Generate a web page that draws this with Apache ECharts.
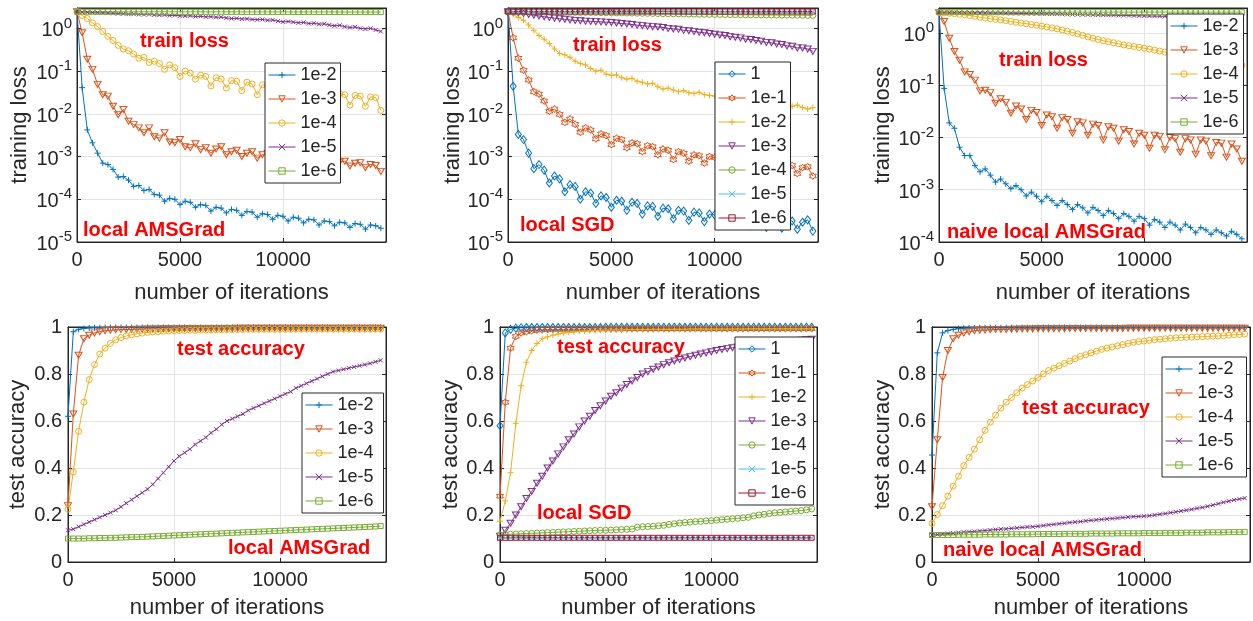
<!DOCTYPE html>
<html><head><meta charset="utf-8">
<script src="https://cdn.jsdelivr.net/npm/echarts@6/dist/echarts.min.js"></script>
<style>html,body{margin:0;padding:0;background:#fff}#c{width:1253px;height:621px}</style>
</head><body><div id="c"></div>
<script>
// ---------------- DATA ----------------
const xs = [0,250,500,750,1000,1250,1500,1750,2000,2250,
2500,2750,3000,3250,3500,3750,4000,4250,4500,4750,
5000,5250,5500,5750,6000,6250,6500,6750,7000,7250,
7500,7750,8000,8250,8500,8750,9000,9250,9500,9750,
10000,10250,10500,10750,11000,11250,11500,11750,12000,12250,
12500,12750,13000,13250,13500,13750,14000,14250,14500,14750];

const xTickLabels = ['0','5000','10000'];

// local AMSGrad - training loss
const tl_1e2 = [2.45,0.041,0.0042,0.0021,0.0012,0.0007,0.00065,0.0005,0.00033,0.00034,
0.00028,0.0002,0.00021,0.00016,0.00017,0.00013,0.000125,9e-5,1.05e-4,1e-4,
7.5e-5,9e-5,8.5e-5,6.5e-5,7.5e-5,7.2e-5,5.3e-5,6.5e-5,6.2e-5,4.8e-5,
5.8e-5,5.5e-5,4.2e-5,5.2e-5,5e-5,3.8e-5,4.6e-5,4.4e-5,3.4e-5,4.2e-5,
4e-5,3.1e-5,3.8e-5,3.6e-5,2.8e-5,3.4e-5,3.3e-5,2.5e-5,3.1e-5,3e-5,
2.4e-5,2.9e-5,2.8e-5,2.2e-5,2.7e-5,2.6e-5,2e-5,2.5e-5,2.4e-5,2.1e-5];
const tl_1e3 = [2.45,0.79,0.19,0.11,0.049,0.028,0.026,0.015,0.0095,0.0126,
0.0067,0.0056,0.0047,0.0036,0.0047,0.0029,0.0027,0.0036,0.0022,0.0021,
0.0025,0.0017,0.0016,0.002,0.00145,0.0016,0.0012,0.0015,0.0017,0.0011,
0.0013,0.0014,0.001,0.0012,0.0013,0.00092,0.0011,0.0012,0.00085,0.001,
0.0011,0.0008,0.00095,0.001,0.00075,0.0009,0.00092,0.0007,0.00082,0.00085,
0.00065,0.00075,0.00078,0.0006,0.0007,0.00072,0.00055,0.00065,0.00062,0.00045];
const tl_1e4 = [2.45,2.0,1.7,1.35,1.1,0.85,0.65,0.52,0.4,0.33,
0.3,0.25,0.2,0.21,0.16,0.17,0.15,0.11,0.14,0.12,
0.075,0.1,0.09,0.065,0.08,0.075,0.045,0.07,0.065,0.04,
0.06,0.058,0.035,0.055,0.05,0.028,0.048,0.045,0.03,0.042,
0.04,0.025,0.038,0.036,0.022,0.035,0.033,0.02,0.032,0.03,
0.018,0.03,0.028,0.016,0.027,0.026,0.015,0.025,0.024,0.012];
const tl_1e5 = [2.45,2.4,2.38,2.35,2.33,2.3,2.28,2.25,2.22,2.2,
2.15,2.17,2.12,2.1,2.12,2.06,2.05,2.07,2.0,2.02,
1.97,1.95,1.97,1.9,1.92,1.86,1.88,1.82,1.84,1.76,
1.7,1.72,1.66,1.68,1.62,1.6,1.62,1.55,1.57,1.48,
1.42,1.45,1.4,1.35,1.38,1.3,1.32,1.25,1.28,1.2,
1.15,1.18,1.1,1.05,1.08,1.0,0.97,1.0,0.92,0.85];
const tl_1e6 = [2.45,2.45,2.45,2.45,2.45,2.45,2.45,2.45,2.45,2.45,
2.45,2.45,2.45,2.45,2.45,2.45,2.45,2.45,2.45,2.45,
2.44,2.44,2.44,2.44,2.44,2.44,2.44,2.44,2.44,2.44,
2.44,2.44,2.43,2.43,2.43,2.43,2.43,2.43,2.43,2.43,
2.43,2.43,2.42,2.42,2.42,2.42,2.42,2.42,2.42,2.42,
2.42,2.42,2.41,2.41,2.41,2.41,2.41,2.41,2.41,2.41];

// local SGD - training loss
const tm_1 = [2.45,0.044,0.0033,0.0025,0.0012,0.00052,0.00065,0.00048,0.00024,0.00035,
0.0003,0.00015,0.00022,0.0002,0.0001,0.00015,0.00014,8e-5,0.00012,0.00011,
6.5e-5,9.5e-5,9e-5,5.5e-5,8.5e-5,8e-5,4.5e-5,7e-5,6.8e-5,4e-5,
6.2e-5,6e-5,3.5e-5,5.5e-5,5.3e-5,3.2e-5,5e-5,4.8e-5,3e-5,4.5e-5,
4.3e-5,2.8e-5,4e-5,3.9e-5,2.6e-5,3.8e-5,3.6e-5,2.4e-5,3.5e-5,3.4e-5,
2.2e-5,3.3e-5,3.2e-5,2.1e-5,3.2e-5,3.1e-5,2e-5,2.9e-5,3.3e-5,1.8e-5];
const tm_1e1 = [2.45,0.6,0.2,0.105,0.062,0.033,0.029,0.02,0.0115,0.013,
0.0097,0.0063,0.0076,0.0057,0.0037,0.0047,0.0042,0.0026,0.0034,0.0031,
0.0019,0.0027,0.0025,0.0016,0.0021,0.002,0.0013,0.0018,0.0017,0.0011,
0.0015,0.0014,0.00085,0.0013,0.0012,0.00078,0.0011,0.00105,0.0007,0.001,
0.00095,0.00062,0.0009,0.00088,0.00058,0.00082,0.0008,0.00052,0.00075,0.00073,
0.00048,0.0007,0.00068,0.00045,0.00065,0.00062,0.0004,0.00055,0.00058,0.00035];
const tm_1e2 = [2.45,2.1,1.8,1.55,1.2,0.9,0.68,0.56,0.44,0.33,
0.26,0.24,0.21,0.17,0.15,0.14,0.115,0.1,0.105,0.085,
0.08,0.082,0.07,0.065,0.068,0.058,0.055,0.05,0.052,0.043,
0.038,0.04,0.036,0.033,0.035,0.031,0.03,0.032,0.028,0.027,
0.026,0.025,0.024,0.022,0.023,0.021,0.02,0.021,0.019,0.018,
0.019,0.017,0.016,0.017,0.015,0.015,0.016,0.014,0.013,0.014];
const tm_1e3 = [2.45,2.4,2.32,2.22,2.12,2.03,1.95,1.87,1.8,1.74,
1.68,1.63,1.58,1.54,1.51,1.48,1.46,1.44,1.42,1.4,
1.37,1.34,1.3,1.27,1.23,1.19,1.16,1.13,1.1,1.08,
1.05,1.0,0.97,0.95,0.9,0.88,0.85,0.81,0.79,0.76,
0.73,0.7,0.68,0.64,0.62,0.6,0.56,0.55,0.52,0.5,
0.47,0.46,0.43,0.42,0.39,0.38,0.35,0.35,0.33,0.29];
const tm_1e4 = [2.45,2.45,2.45,2.44,2.44,2.43,2.43,2.42,2.42,2.41,
2.4,2.4,2.39,2.38,2.37,2.37,2.36,2.35,2.34,2.33,
2.32,2.31,2.3,2.29,2.28,2.27,2.26,2.25,2.24,2.23,
2.22,2.21,2.2,2.19,2.18,2.17,2.16,2.15,2.14,2.13,
2.12,2.12,2.11,2.1,2.1,2.09,2.08,2.08,2.07,2.07,
2.06,2.06,2.05,2.05,2.04,2.04,2.03,2.03,2.02,2.02];
const tm_1e5 = [2.46,2.46,2.46,2.46,2.46,2.46,2.46,2.46,2.46,2.46,
2.46,2.46,2.46,2.46,2.46,2.46,2.46,2.46,2.46,2.46,
2.46,2.46,2.46,2.46,2.46,2.46,2.46,2.46,2.46,2.46,
2.46,2.46,2.46,2.46,2.46,2.46,2.46,2.46,2.46,2.46,
2.46,2.46,2.46,2.46,2.46,2.46,2.46,2.46,2.46,2.46,
2.46,2.46,2.46,2.46,2.46,2.46,2.46,2.46,2.46,2.46];
const tm_1e6 = [2.48,2.48,2.48,2.48,2.48,2.48,2.48,2.48,2.48,2.48,
2.48,2.48,2.48,2.48,2.48,2.48,2.48,2.48,2.48,2.48,
2.48,2.48,2.48,2.48,2.48,2.48,2.48,2.48,2.48,2.48,
2.48,2.48,2.48,2.48,2.48,2.48,2.48,2.48,2.48,2.48,
2.48,2.48,2.48,2.48,2.48,2.48,2.48,2.48,2.48,2.48,
2.48,2.48,2.48,2.48,2.48,2.48,2.48,2.48,2.48,2.48];

// naive local AMSGrad - training loss
const tr_1e2 = [2.45,0.087,0.019,0.015,0.0065,0.0045,0.0045,0.0029,0.0022,0.0025,
0.0019,0.0014,0.0016,0.0013,0.00105,0.0012,0.001,0.00076,0.0009,0.00075,
0.00059,0.00075,0.00062,0.0005,0.00062,0.00052,0.00042,0.00052,0.00045,0.00036,
0.00046,0.0004,0.00032,0.0004,0.00035,0.00028,0.00035,0.00031,0.00025,0.00031,
0.00028,0.00021,0.00027,0.00024,0.00019,0.00024,0.00021,0.00017,0.00022,0.00019,
0.00015,0.00019,0.00017,0.00014,0.00017,0.00015,0.00013,0.00016,0.00014,0.000115];
const tr_1e3 = [2.45,1.65,0.79,0.44,0.3,0.18,0.16,0.125,0.078,0.08,
0.072,0.045,0.055,0.047,0.029,0.04,0.035,0.022,0.033,0.03,
0.017,0.027,0.025,0.015,0.024,0.022,0.012,0.02,0.019,0.011,
0.018,0.017,0.009,0.016,0.015,0.0085,0.014,0.013,0.0075,0.012,
0.011,0.0062,0.011,0.0105,0.0058,0.01,0.0095,0.0052,0.0095,0.009,
0.0048,0.009,0.0085,0.0045,0.008,0.0078,0.0042,0.0075,0.006,0.0035];
const tr_1e4 = [2.45,2.42,2.38,2.33,2.28,2.22,2.15,2.08,2.0,1.93,
1.87,1.82,1.78,1.72,1.66,1.6,1.55,1.5,1.45,1.4,
1.35,1.3,1.25,1.2,1.14,1.08,1.02,0.96,0.9,0.84,
0.79,0.75,0.71,0.68,0.65,0.62,0.59,0.57,0.55,0.53,
0.51,0.49,0.47,0.45,0.43,0.41,0.39,0.38,0.36,0.35,
0.34,0.32,0.31,0.3,0.29,0.28,0.27,0.26,0.25,0.24];
const tr_1e5 = [2.45,2.45,2.45,2.44,2.44,2.43,2.43,2.42,2.41,2.41,
2.4,2.39,2.39,2.38,2.37,2.36,2.36,2.35,2.34,2.33,
2.32,2.31,2.3,2.29,2.28,2.27,2.26,2.25,2.24,2.23,
2.22,2.21,2.2,2.19,2.18,2.17,2.16,2.15,2.14,2.13,
2.12,2.11,2.1,2.09,2.08,2.07,2.06,2.05,2.04,2.03,
2.02,2.01,2.0,1.99,1.98,1.98,1.97,1.96,1.95,1.95];
const tr_1e6 = [2.5,2.5,2.5,2.5,2.5,2.5,2.5,2.5,2.5,2.5,
2.5,2.5,2.5,2.5,2.5,2.5,2.5,2.5,2.5,2.5,
2.5,2.5,2.5,2.5,2.5,2.5,2.5,2.5,2.5,2.5,
2.5,2.5,2.5,2.5,2.5,2.5,2.5,2.5,2.5,2.5,
2.5,2.5,2.5,2.5,2.5,2.5,2.5,2.5,2.5,2.5,
2.5,2.5,2.5,2.5,2.5,2.5,2.5,2.5,2.5,2.5];

// local AMSGrad - test accuracy
const bl_1e2 = [0.62,0.98,0.99,0.994,0.996,0.997,0.997,0.998,0.998,0.998,
0.998,0.998,0.998,0.998,0.998,0.998,0.998,0.998,0.998,0.998,
0.998,0.998,0.998,0.998,0.998,0.998,0.998,0.998,0.998,0.998,
0.999,0.999,0.999,0.999,0.999,0.999,0.999,0.999,0.999,0.999,
0.999,0.999,0.999,0.999,0.999,0.999,0.999,0.999,0.999,0.999,
0.999,0.999,0.999,0.999,0.999,0.999,0.999,0.999,0.999,0.999];
const bl_1e3 = [0.24,0.63,0.88,0.95,0.965,0.975,0.98,0.984,0.986,0.988,
0.989,0.99,0.99,0.991,0.991,0.992,0.992,0.992,0.993,0.993,
0.993,0.993,0.993,0.994,0.994,0.994,0.994,0.994,0.994,0.994,
0.994,0.994,0.995,0.995,0.995,0.995,0.995,0.995,0.995,0.995,
0.995,0.995,0.995,0.995,0.995,0.995,0.995,0.995,0.995,0.995,
0.995,0.995,0.995,0.995,0.995,0.995,0.995,0.995,0.995,0.995];
const bl_1e4 = [0.225,0.383,0.556,0.68,0.776,0.84,0.885,0.91,0.93,0.946,
0.955,0.962,0.967,0.971,0.974,0.977,0.979,0.98,0.982,0.983,
0.984,0.985,0.985,0.986,0.986,0.987,0.987,0.988,0.988,0.988,
0.989,0.989,0.989,0.989,0.99,0.99,0.99,0.99,0.99,0.99,
0.99,0.99,0.99,0.991,0.991,0.991,0.991,0.991,0.991,0.991,
0.991,0.991,0.991,0.991,0.991,0.991,0.991,0.991,0.991,0.991];
const bl_1e5 = [0.135,0.14,0.15,0.16,0.17,0.18,0.19,0.2,0.21,0.22,
0.235,0.25,0.265,0.28,0.295,0.31,0.33,0.355,0.38,0.405,
0.43,0.45,0.465,0.48,0.5,0.515,0.53,0.55,0.565,0.585,
0.6,0.61,0.62,0.63,0.645,0.655,0.665,0.675,0.685,0.695,
0.705,0.715,0.725,0.74,0.75,0.76,0.77,0.78,0.79,0.8,
0.81,0.815,0.82,0.825,0.83,0.835,0.84,0.845,0.852,0.858];
const bl_1e6 = [0.1,0.1,0.1,0.1,0.101,0.101,0.102,0.102,0.103,0.103,
0.104,0.105,0.106,0.106,0.107,0.108,0.109,0.11,0.111,0.112,
0.113,0.114,0.115,0.116,0.117,0.118,0.119,0.12,0.121,0.122,
0.123,0.124,0.125,0.126,0.127,0.128,0.129,0.13,0.131,0.132,
0.133,0.134,0.135,0.136,0.137,0.138,0.139,0.14,0.141,0.142,
0.143,0.144,0.145,0.146,0.147,0.148,0.149,0.15,0.151,0.153];

// local SGD - test accuracy
const bm_1 = [0.58,0.975,0.99,0.995,0.997,0.998,0.998,0.998,0.998,0.998,
0.998,0.998,0.998,0.998,0.998,0.998,0.998,0.998,0.998,0.998,
0.999,0.999,0.999,0.999,0.999,0.999,0.999,0.999,0.999,0.999,
0.999,0.999,0.999,0.999,0.999,0.999,0.999,0.999,0.999,0.999,
0.999,0.999,0.999,0.999,0.999,0.999,0.999,0.999,0.999,0.999,
0.999,0.999,0.999,0.999,0.999,0.999,0.999,0.999,0.999,0.999];
const bm_1e1 = [0.28,0.68,0.91,0.96,0.975,0.98,0.984,0.987,0.988,0.989,
0.99,0.99,0.99,0.991,0.991,0.991,0.991,0.992,0.992,0.992,
0.992,0.992,0.992,0.992,0.993,0.993,0.993,0.993,0.993,0.993,
0.993,0.993,0.993,0.993,0.993,0.993,0.993,0.993,0.993,0.993,
0.993,0.993,0.993,0.993,0.993,0.993,0.993,0.993,0.993,0.993,
0.993,0.993,0.993,0.993,0.993,0.993,0.993,0.993,0.993,0.993];
const bm_1e2 = [0.174,0.26,0.38,0.59,0.75,0.85,0.9,0.93,0.95,0.958,
0.965,0.97,0.974,0.977,0.979,0.981,0.983,0.984,0.985,0.986,
0.987,0.987,0.988,0.988,0.988,0.989,0.989,0.989,0.989,0.99,
0.99,0.99,0.99,0.99,0.99,0.99,0.991,0.991,0.991,0.991,
0.991,0.991,0.991,0.991,0.991,0.991,0.991,0.992,0.992,0.992,
0.992,0.992,0.992,0.992,0.992,0.992,0.992,0.992,0.992,0.992];
const bm_1e3 = [0.11,0.135,0.165,0.2,0.235,0.27,0.3,0.335,0.365,0.4,
0.43,0.46,0.49,0.52,0.545,0.575,0.6,0.62,0.645,0.665,
0.685,0.705,0.72,0.74,0.755,0.77,0.785,0.8,0.81,0.82,
0.83,0.84,0.848,0.855,0.862,0.868,0.874,0.88,0.885,0.89,
0.895,0.9,0.904,0.908,0.912,0.915,0.918,0.921,0.924,0.927,
0.93,0.932,0.934,0.936,0.938,0.94,0.942,0.944,0.946,0.948];
const bm_1e4 = [0.115,0.117,0.118,0.119,0.12,0.121,0.122,0.123,0.124,0.125,
0.126,0.127,0.128,0.129,0.13,0.131,0.132,0.133,0.134,0.135,
0.135,0.136,0.137,0.138,0.139,0.14,0.148,0.15,0.151,0.152,
0.154,0.156,0.16,0.163,0.166,0.168,0.17,0.172,0.173,0.175,
0.176,0.178,0.18,0.182,0.184,0.186,0.188,0.19,0.196,0.2,
0.203,0.206,0.209,0.211,0.213,0.215,0.217,0.219,0.222,0.226];
const bm_1e5 = [0.103,0.103,0.103,0.103,0.103,0.103,0.103,0.103,0.103,0.103,
0.103,0.103,0.103,0.103,0.103,0.103,0.103,0.103,0.103,0.103,
0.103,0.103,0.103,0.103,0.103,0.103,0.103,0.103,0.103,0.103,
0.103,0.103,0.103,0.103,0.103,0.103,0.103,0.103,0.103,0.103,
0.103,0.103,0.103,0.103,0.103,0.103,0.103,0.103,0.103,0.103,
0.103,0.103,0.103,0.103,0.103,0.103,0.103,0.103,0.103,0.103];
const bm_1e6 = [0.103,0.103,0.103,0.103,0.103,0.103,0.103,0.103,0.103,0.103,
0.103,0.103,0.103,0.103,0.103,0.103,0.103,0.103,0.103,0.103,
0.103,0.103,0.103,0.103,0.103,0.103,0.103,0.103,0.103,0.103,
0.103,0.103,0.103,0.103,0.103,0.103,0.103,0.103,0.103,0.103,
0.103,0.103,0.103,0.103,0.103,0.103,0.103,0.103,0.103,0.103,
0.103,0.103,0.103,0.103,0.103,0.103,0.103,0.103,0.103,0.103];

// naive local AMSGrad - test accuracy
const br_1e2 = [0.455,0.89,0.975,0.985,0.99,0.993,0.995,0.996,0.996,0.997,
0.997,0.997,0.997,0.997,0.997,0.997,0.997,0.997,0.997,0.997,
0.998,0.998,0.998,0.998,0.998,0.998,0.998,0.998,0.998,0.998,
0.998,0.998,0.998,0.998,0.998,0.998,0.998,0.998,0.998,0.998,
0.998,0.998,0.998,0.998,0.998,0.998,0.998,0.998,0.998,0.998,
0.998,0.998,0.998,0.998,0.998,0.998,0.998,0.998,0.998,0.998];
const br_1e3 = [0.235,0.52,0.785,0.9,0.95,0.965,0.975,0.98,0.984,0.986,
0.987,0.988,0.989,0.99,0.99,0.991,0.991,0.992,0.992,0.992,
0.993,0.993,0.993,0.993,0.993,0.993,0.994,0.994,0.994,0.994,
0.994,0.994,0.994,0.994,0.994,0.994,0.994,0.995,0.995,0.995,
0.995,0.995,0.995,0.995,0.995,0.995,0.995,0.995,0.995,0.995,
0.995,0.995,0.995,0.995,0.995,0.995,0.995,0.995,0.995,0.995];
const br_1e4 = [0.164,0.202,0.24,0.28,0.323,0.365,0.41,0.445,0.48,0.52,
0.56,0.595,0.625,0.655,0.68,0.7,0.72,0.74,0.755,0.77,
0.785,0.8,0.815,0.825,0.835,0.845,0.855,0.865,0.875,0.882,
0.89,0.897,0.905,0.91,0.915,0.92,0.925,0.93,0.935,0.938,
0.94,0.943,0.946,0.948,0.95,0.952,0.954,0.955,0.956,0.957,
0.958,0.959,0.96,0.961,0.962,0.963,0.965,0.967,0.968,0.97];
const br_1e5 = [0.115,0.117,0.119,0.121,0.123,0.125,0.127,0.129,0.13,0.132,
0.134,0.136,0.138,0.14,0.141,0.143,0.145,0.147,0.149,0.15,
0.152,0.155,0.158,0.16,0.163,0.165,0.168,0.17,0.172,0.175,
0.177,0.179,0.181,0.183,0.185,0.187,0.189,0.191,0.193,0.194,
0.195,0.197,0.2,0.203,0.206,0.21,0.213,0.217,0.22,0.224,
0.228,0.232,0.237,0.242,0.248,0.254,0.259,0.264,0.268,0.272];
const br_1e6 = [0.115,0.115,0.115,0.115,0.115,0.116,0.116,0.116,0.116,0.116,
0.117,0.117,0.117,0.117,0.117,0.118,0.118,0.118,0.118,0.118,
0.119,0.119,0.119,0.119,0.119,0.12,0.12,0.12,0.12,0.12,
0.121,0.121,0.121,0.121,0.121,0.122,0.122,0.122,0.122,0.122,
0.123,0.123,0.123,0.123,0.124,0.124,0.124,0.124,0.125,0.125,
0.125,0.125,0.126,0.126,0.126,0.126,0.127,0.127,0.127,0.128];

// ---------------- STYLE ----------------
const C = {blue:'#0072BD', orange:'#D95319', yellow:'#EDB120', purple:'#7E2F8E',
           green:'#77AC30', lblue:'#4DBEEE', dred:'#A2142F'};
const SYM = {
  plus: ['path://M5,0L5,10M0,5L10,5', 6],
  tri:  ['path://M0,0L10,0L5,8.66Z', [7,6]],
  circ: ['circle', 6],
  x:    ['path://M0,0L10,10M10,0L0,10', 4],
  sq:   ['rect', 5],
  dia:  ['diamond', [6,8]],
  hex:  ['path://M5,0L6.44,2.5L9.33,2.5L7.89,5L9.33,7.5L6.44,7.5L5,10L3.56,7.5L0.67,7.5L2.11,5L0.67,2.5L3.56,2.5Z', 7]
};
const FONT = '"Liberation Sans", Arial, Helvetica, sans-serif';
const AX = '#262626';
const GRIDC = '#e3e3e3';

const panels = [
  {grid:{left:77,top:8,width:309,height:234}, log:true, ymin:1e-5, ymax:3, ynm:'training loss', ygap:46, xgap:40,
   leg:{left:265,top:63,pr:4},
   series:[['1e-2',tl_1e2,C.blue,'plus'],['1e-3',tl_1e3,C.orange,'tri'],['1e-4',tl_1e4,C.yellow,'circ'],['1e-5',tl_1e5,C.purple,'x'],['1e-6',tl_1e6,C.green,'sq']],
   txt:[['train loss',140,41],['local AMSGrad',83,230]]},
  {grid:{left:508,top:8,width:310,height:234}, log:true, ymin:1e-5, ymax:3, ynm:'training loss', ygap:44, xgap:40,
   leg:{left:715,top:62,pr:4},
   series:[['1',tm_1,C.blue,'dia'],['1e-1',tm_1e1,C.orange,'hex'],['1e-2',tm_1e2,C.yellow,'plus'],['1e-3',tm_1e3,C.purple,'tri'],['1e-4',tm_1e4,C.green,'circ'],['1e-5',tm_1e5,C.lblue,'x'],['1e-6',tm_1e6,C.dred,'sq']],
   txt:[['train loss',573,45],['local SGD',520,225]]},
  {grid:{left:939,top:8,width:308,height:234}, log:true, ymin:1e-4, ymax:3, ynm:'training loss', ygap:45, xgap:40,
   leg:{left:1167,top:14,pr:5},
   series:[['1e-2',tr_1e2,C.blue,'plus'],['1e-3',tr_1e3,C.orange,'tri'],['1e-4',tr_1e4,C.yellow,'circ'],['1e-5',tr_1e5,C.purple,'x'],['1e-6',tr_1e6,C.green,'sq']],
   txt:[['train loss',999,60],['naive local AMSGrad',947,232]]},
  {grid:{left:68,top:327,width:318,height:235}, log:false, ymin:0, ymax:1, ynm:'test accuracy', ygap:39, xgap:35,
   leg:{left:302,top:393,pr:10},
   series:[['1e-2',bl_1e2,C.blue,'plus'],['1e-3',bl_1e3,C.orange,'tri'],['1e-4',bl_1e4,C.yellow,'circ'],['1e-5',bl_1e5,C.purple,'x'],['1e-6',bl_1e6,C.green,'sq']],
   txt:[['test accuracy',177,349],['local AMSGrad',228,548]]},
  {grid:{left:500,top:327,width:317,height:235}, log:false, ymin:0, ymax:1, ynm:'test accuracy', ygap:37, xgap:35,
   leg:{left:735,top:337,pr:7},
   series:[['1',bm_1,C.blue,'dia'],['1e-1',bm_1e1,C.orange,'hex'],['1e-2',bm_1e2,C.yellow,'plus'],['1e-3',bm_1e3,C.purple,'tri'],['1e-4',bm_1e4,C.green,'circ'],['1e-5',bm_1e5,C.lblue,'x'],['1e-6',bm_1e6,C.dred,'sq']],
   txt:[['test accuracy',557,347],['local SGD',537,513]]},
  {grid:{left:932,top:327,width:318,height:235}, log:false, ymin:0, ymax:1, ynm:'test accuracy', ygap:38, xgap:35,
   leg:{left:1162,top:357,pr:13},
   series:[['1e-2',br_1e2,C.blue,'plus'],['1e-3',br_1e3,C.orange,'tri'],['1e-4',br_1e4,C.yellow,'circ'],['1e-5',br_1e5,C.purple,'x'],['1e-6',br_1e6,C.green,'sq']],
   txt:[['test accuracy',1022,408],['naive local AMSGrad',943,550]]}
];

const grids=[], xAxes=[], yAxes=[], series=[], legends=[], graphics=[];
const logFmt = v => { const e = Math.log10(v); const r = Math.round(e); if (Math.abs(e-r) > 0.01) return ''; return '{b|10}{e|' + r + '}'; };

panels.forEach((p, gi) => {
  grids.push(Object.assign({show:true, borderColor:AX, borderWidth:1, backgroundColor:'#fff', containLabel:false, outerBoundsMode:'none'}, p.grid));
});
// main axes
panels.forEach((p, gi) => {
  xAxes.push({type:'value', gridIndex:gi, min:0, max:15000, interval:5000, position:'bottom',
    name:'number of iterations', nameLocation:'middle', nameGap:p.xgap,
    nameTextStyle:{fontSize:22, color:AX, fontFamily:FONT},
    axisLine:{show:true, onZero:false, lineStyle:{color:AX, width:1}},
    axisTick:{show:true, inside:true, length:4, lineStyle:{color:AX}},
    axisLabel:{show:true, fontSize:20, color:AX, fontFamily:FONT, margin:8, showMaxLabel:false,
      formatter: v => { const k = xTickLabels.indexOf(String(v)); return k >= 0 ? xTickLabels[k] : ''; }},
    splitLine:{show:true, lineStyle:{color:GRIDC, width:1}}});
  const y = {gridIndex:gi, position:'left', min:p.ymin, max:p.ymax,
    name:p.ynm, nameLocation:'middle', nameGap:p.ygap,
    nameTextStyle:{fontSize:22, color:AX, fontFamily:FONT},
    axisLine:{show:true, onZero:false, lineStyle:{color:AX, width:1}},
    axisTick:{show:true, inside:true, length:4, lineStyle:{color:AX}},
    splitLine:{show:true, lineStyle:{color:GRIDC, width:1}}};
  if (p.log) {
    y.type = 'log'; y.logBase = 10; y.splitNumber = Math.round(Math.log10(p.ymax/p.ymin));
    y.axisLabel = {fontSize:20, color:AX, fontFamily:FONT, margin:5, formatter:logFmt,
      rich:{b:{fontSize:20, color:AX, fontFamily:FONT, verticalAlign:'bottom'},
            e:{fontSize:15, color:AX, fontFamily:FONT, verticalAlign:'top', padding:[0,0,10,0]}}};
  } else {
    y.type = 'value'; y.interval = 0.2;
    y.axisLabel = {fontSize:20, color:AX, fontFamily:FONT, margin:6,
      formatter: v => (Math.abs(v) < 1e-9 ? '0' : Math.abs(v-1) < 1e-9 ? '1' : v.toFixed(1))};
  }
  yAxes.push(y);
});
// mirrored axes (ticks on top/right)
panels.forEach((p, gi) => {
  xAxes.push({type:'value', gridIndex:gi, min:0, max:15000, interval:5000, position:'top',
    axisLine:{show:true, onZero:false, lineStyle:{color:AX}}, axisTick:{show:true, inside:true, length:4, lineStyle:{color:AX}},
    axisLabel:{show:false}, splitLine:{show:false}});
  const y = {gridIndex:gi, position:'right', min:p.ymin, max:p.ymax,
    axisLine:{show:true, onZero:false, lineStyle:{color:AX}}, axisTick:{show:true, inside:true, length:4, lineStyle:{color:AX}},
    axisLabel:{show:false}, splitLine:{show:false}};
  if (p.log) { y.type='log'; y.logBase=10; y.splitNumber = Math.round(Math.log10(p.ymax/p.ymin)); }
  else { y.type='value'; y.interval=0.2; }
  yAxes.push(y);
});

panels.forEach((p, gi) => {
  const names = [];
  p.series.forEach(([nm, vals, col, sk]) => {
    const id = 'p' + gi + '#' + nm;
    names.push(id);
    series.push({name:id, type:'line', xAxisIndex:gi, yAxisIndex:gi,
      data: xs.map((x, i) => [x, vals[i]]),
      symbol: SYM[sk][0], symbolSize: SYM[sk][1], showSymbol:true, showAllSymbol:true,
      lineStyle:{color:col, width:1},
      itemStyle:{color:'rgba(0,0,0,0)', borderColor:col, borderWidth:1},
      emphasis:{disabled:true}, animation:false, silent:true, clip:true});
  });
  legends.push({show:true, orient:'vertical', left:p.leg.left, top:p.leg.top,
    data:names, selectedMode:false, formatter: n => n.split('#')[1],
    backgroundColor:'#fff', borderColor:AX, borderWidth:1, borderRadius:0,
    padding:[3, p.leg.pr, 3, 3], itemGap:6, itemWidth:27, itemHeight:8,
    textStyle:{fontSize:18, color:AX, fontFamily:FONT, lineHeight:18},
    itemStyle:{borderWidth:1}, lineStyle:{width:1}, z:20});
  p.txt.forEach(([t, x, yy]) => {
    graphics.push({type:'text', x:x, y:yy, z:30, silent:true,
      style:{text:t, fill:'#ff0000', font:'bold 20px ' + FONT, align:'left', verticalAlign:'middle'}});
  });
});

const chart = echarts.init(document.getElementById('c'), null, {renderer:'canvas'});
chart.setOption({
  animation:false,
  backgroundColor:'#fff',
  textStyle:{fontFamily:FONT},
  grid:grids, xAxis:xAxes, yAxis:yAxes, series:series, legend:legends,
  graphic:{elements:graphics}
});
</script></body></html>
